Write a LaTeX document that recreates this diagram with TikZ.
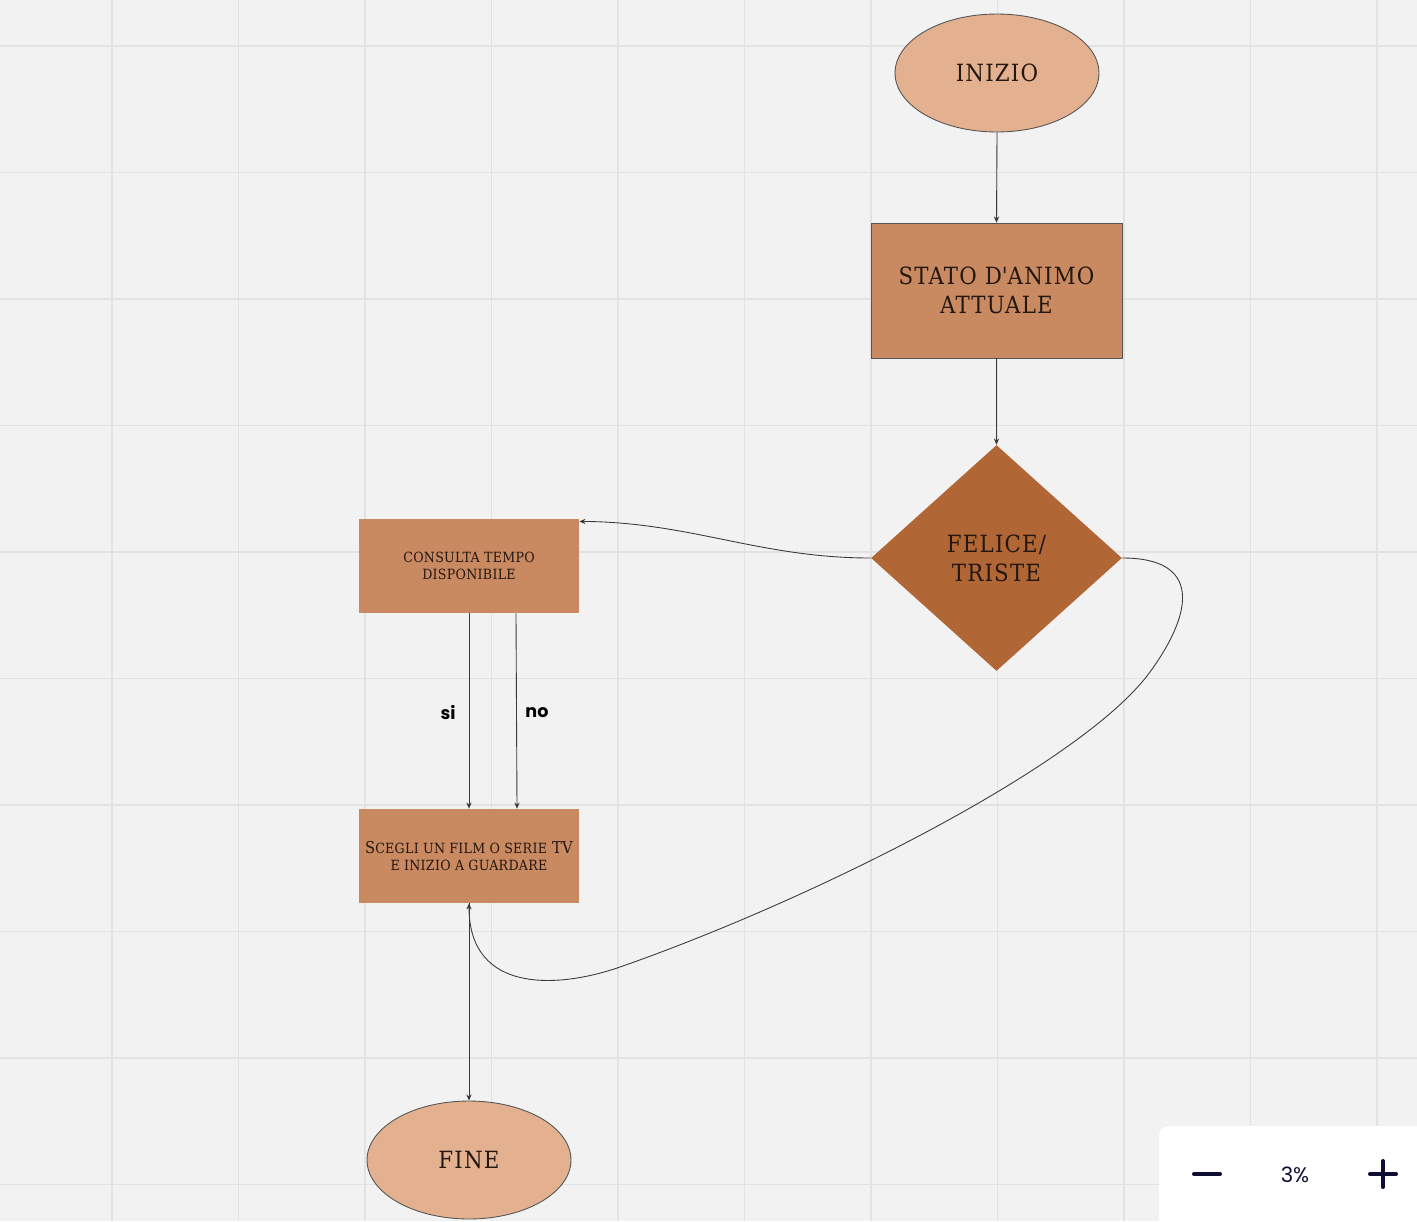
\documentclass[tikz,border=0pt]{standalone}
\usepackage{fontspec}
\newfontfamily\uisans{Poppins}
\newfontfamily\slab{DejaVu Serif Condensed}[LetterSpace=2]
\newfontfamily\slabwide{DejaVu Serif Condensed}[LetterSpace=5]
\usetikzlibrary{shapes.geometric,arrows.meta,calc}
\definecolor{canvas}{HTML}{F2F2F2}
\definecolor{gridgray}{HTML}{E2E2E2}
\definecolor{termfill}{HTML}{E3B18F}
\definecolor{boxfill}{HTML}{C98A62}
\definecolor{decfill}{HTML}{B06735}
\definecolor{inkdark}{HTML}{24170F}
\definecolor{edgegray}{HTML}{555555}
\definecolor{linkgray}{HTML}{3A3A3A}
\definecolor{uinavy}{HTML}{0E0E35}
% small capitals drawn as reduced upper case letters
\newcommand{\minicaps}[1]{{\fontsize{8}{10}\selectfont #1}}
\begin{document}
\begin{tikzpicture}[x=0.02cm,y=-0.02cm,
  gridline/.style={draw=gridgray,line width=1.1pt},
  bigtext/.style={text=inkdark,align=center,font=\slabwide\fontsize{13.5}{16.4}\selectfont},
  smalltext/.style={text=inkdark,align=center,font=\slab\fontsize{9.3}{9.8}\selectfont},
  terminal/.style={ellipse,fill=termfill,draw=edgegray,line width=0.5pt,
    minimum width=4.08cm,minimum height=2.36cm,inner sep=0pt,bigtext},
  process/.style={rectangle,fill=boxfill,inner sep=0pt},
  decision/.style={diamond,fill=decfill,minimum width=5.02cm,minimum height=4.52cm,
    inner sep=0pt,bigtext},
  flow/.style={draw=linkgray,line width=0.5pt,-{Stealth[length=3.5pt,width=3pt]}},
  answer/.style={text=black,font=\uisans\bfseries\fontsize{10}{12}\selectfont},
  uimark/.style={draw=uinavy,line width=2.3pt,line cap=round}]

% canvas and background grid
\fill[canvas] (0,0) rectangle (1417,1221);
\useasboundingbox (0,0) rectangle (1417,1221);
\foreach \k in {0,...,10}
  \draw[gridline] ({112+126.5*\k},0) -- ({112+126.5*\k},1221);
\foreach \k in {0,...,9}
  \draw[gridline] (0,{46+126.5*\k}) -- (1417,{46+126.5*\k});

% flowchart nodes
\node[terminal] (start) at (997,73) {INIZIO};
\node[process,draw=edgegray,line width=0.5pt,minimum width=5.02cm,minimum height=2.70cm,bigtext]
  (mood) at (996.5,290.5) {STATO D\textquotesingle ANIMO\\ATTUALE};
\node[decision] (feel) at (996.5,558) {FELICE/\\TRISTE};
\node[process,minimum width=4.40cm,minimum height=1.88cm,smalltext]
  (time) at (469,566) {\minicaps{CONSULTA TEMPO}\\\minicaps{DISPONIBILE}};
\node[process,minimum width=4.40cm,minimum height=1.88cm,smalltext]
  (pick) at (469,856) {S\minicaps{CEGLI UN FILM O SERIE} TV\\\minicaps{E INIZIO A GUARDARE}};
\node[terminal] (stop) at (469,1160) {FINE};

% connectors
\draw[flow] (start.south) -- (mood.north);
\draw[flow] (mood.south) -- (feel.north);
\draw[flow] (feel.west) .. controls (760,558) and (690,522) .. (time.22);
\draw[flow] (time.south) -- (pick.north);
\draw[flow] ($(time.south)+(47,0)$) -- ($(pick.north)+(48,0)$);
\draw[flow] (feel.east) .. controls (1200,558) and (1195,610) .. (1150,672)
  .. controls (1082,765) and (812,900) .. (620,967)
  .. controls (560,988) and (469,995) .. (pick.south);
\draw[flow] (pick.south) -- (stop.north);

% branch labels
\node[answer] (yes) at (448,713) {si};
\node[answer] (no) at (537,713) {no};

% zoom control panel
\begin{scope}
  \clip (0,0) rectangle (1417,1221);
  \fill[white,rounded corners=0.2cm] (1159,1126) rectangle (1440,1250);
\end{scope}
\draw[uimark] (1194,1174) -- (1220,1174);
\draw[uimark] (1370,1174) -- (1396,1174);
\draw[uimark] (1383,1161) -- (1383,1187);
\node[text=uinavy,font=\uisans\fontsize{12}{14}\selectfont] (zoomlevel) at (1295,1175) {3\%};
\end{tikzpicture}
\end{document}
